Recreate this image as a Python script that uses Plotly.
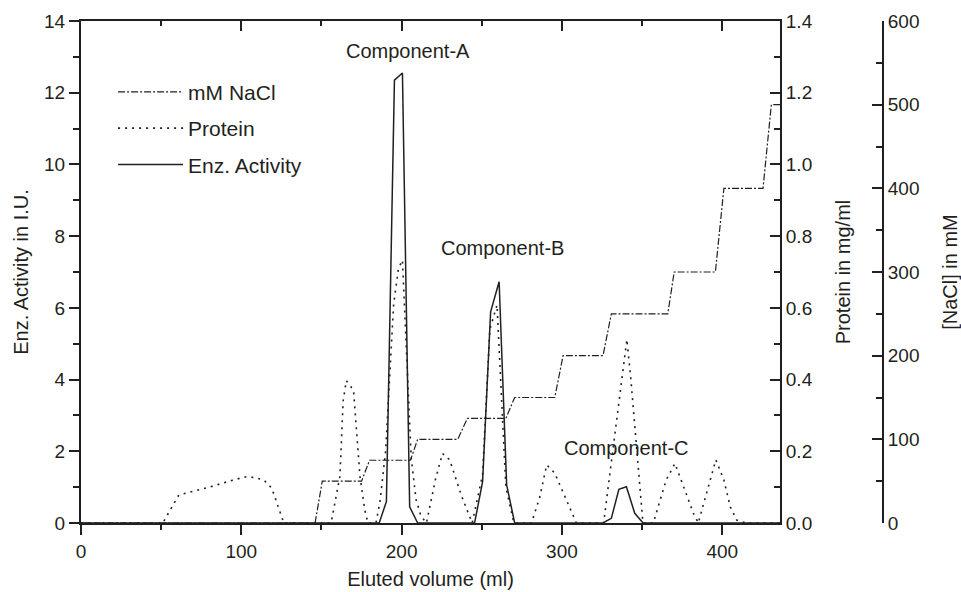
import plotly.graph_objects as go

# ---- data ----
nacl_volume = [0, 146, 150.5, 175, 180, 205.5, 210, 235, 241, 265, 270.5, 295.5, 300.7,
               325.6, 330.8, 366, 370, 395.7, 401, 425.4, 430.6, 436]
nacl_mM = [0, 0, 50, 50, 75, 75, 100, 100, 125, 125, 150, 150, 200,
           200, 250, 250, 300, 300, 400, 400, 500, 500]

protein_volume = [0, 51, 61, 80, 95, 103, 108, 114, 119, 123, 126.5,
                  156, 161.5, 163.5, 165.5, 170, 174, 177, 179,
                  184, 186.5, 190, 195, 198, 200.5, 203, 206, 209, 212, 215.5,
                  221, 225.5, 230, 237, 244,
                  250.5, 255, 259.5, 265, 270,
                  281, 286, 290.5, 295.5, 303, 309,
                  326, 340.5, 343, 346.5, 350.5,
                  357, 365, 370.5, 376, 382, 385,
                  391.5, 396, 401, 405, 409, 415, 436]
protein_mg = [0, 0, 0.078, 0.100, 0.120, 0.129, 0.127, 0.120, 0.097, 0.045, 0,
              0, 0.130, 0.340, 0.397, 0.370, 0.130, 0.036, 0,
              0, 0.060, 0.200, 0.610, 0.710, 0.733, 0.480, 0.180, 0.065, 0.020, 0,
              0.120, 0.194, 0.176, 0.080, 0,
              0.135, 0.540, 0.608, 0.100, 0,
              0, 0.070, 0.162, 0.139, 0.064, 0,
              0, 0.512, 0.400, 0.210, 0,
              0, 0.120, 0.166, 0.101, 0.027, 0,
              0.100, 0.176, 0.120, 0.045, 0.008, 0, 0]

enz_volume = [0, 186, 190.5, 195.5, 200.5, 205, 210, 245.5, 250.5, 255.5, 260.8, 265.5,
              270.5, 325.5, 330.8, 335.5, 340.2, 345.4, 350.6, 436]
enz_activity = [0, 0, 0.6, 12.35, 12.55, 0.45, 0, 0, 1.15, 5.89, 6.73, 1.06,
                0, 0, 0.13, 0.94, 1.01, 0.27, 0, 0]

component_labels = ["Component-A", "Component-B", "Component-C"]
component_x = [204, 263, 340]
component_y = [13.15, 7.67, 2.10]

INK = "#231f20"
FONT = "Liberation Sans, Arial, Helvetica, sans-serif"

fig = go.Figure()
fig.add_trace(go.Scatter(x=nacl_volume, y=nacl_mM, yaxis="y3", mode="lines",
                         name="mM NaCl", legendgroup="a",
                         line=dict(color=INK, width=1.2, dash="7px,2px,2px,2px")))
fig.add_trace(go.Scatter(x=protein_volume, y=protein_mg, yaxis="y2", mode="lines",
                         name="Protein", legendgroup="b",
                         line=dict(color=INK, width=1.6, dash="2px,5px")))
fig.add_trace(go.Scatter(x=enz_volume, y=enz_activity, yaxis="y", mode="lines",
                         name="Enz. Activity", legendgroup="c",
                         line=dict(color=INK, width=1.5)))
# invisible helper trace so the top (inside-ticked) axis is drawn
fig.add_trace(go.Scatter(x=[None], y=[None], xaxis="x2", yaxis="y",
                         showlegend=False, hoverinfo="skip"))

for t, x, y in zip(component_labels, component_x, component_y):
    fig.add_annotation(x=x, y=y, xref="x", yref="y", text=t, showarrow=False,
                       font=dict(size=20, color=INK, family=FONT))

XD = (780 - 81) / (883 - 81)
TF = dict(size=20, color=INK, family=FONT)


def ax(**kw):
    d = dict(showline=True, linecolor=INK, linewidth=2, tickcolor=INK,
             tickwidth=2, showgrid=False, zeroline=False, tickmode="linear",
             automargin=False,
             tickfont=dict(size=19, color=INK, family=FONT))
    d.update(kw)
    return d


fig.update_layout(
    width=961, height=592,
    margin=dict(l=81, r=78, t=21, b=69),
    paper_bgcolor="white", plot_bgcolor="white",
    font=dict(family=FONT, color=INK, size=19),
    showlegend=True,
    legend=dict(x=0.04, y=0.899, xanchor="left", yanchor="top",
                bgcolor="rgba(0,0,0,0)", font=dict(size=21, color=INK, family=FONT),
                itemwidth=65, tracegroupgap=6, traceorder="grouped"),
    xaxis=ax(domain=[0, XD], range=[0, 436], anchor="y", ticks="outside",
             tick0=0, dtick=100, ticklen=10,
             minor=dict(dtick=50, ticks="outside", ticklen=5, tickcolor=INK, tickwidth=2),
             title=dict(text="Eluted volume (ml)", font=TF, standoff=11)),
    xaxis2=ax(domain=[0, XD], range=[0, 436], anchor="y", overlaying="x", side="top",
              ticks="inside", tick0=0, dtick=100, ticklen=10, showticklabels=False,
              minor=dict(dtick=50, ticks="inside", ticklen=5, tickcolor=INK, tickwidth=2)),
    yaxis=ax(range=[0, 14], anchor="x", ticks="outside", tick0=0, dtick=2, ticklen=10,
             minor=dict(dtick=1, ticks="outside", ticklen=6, tickcolor=INK, tickwidth=2),
             title=dict(text="Enz. Activity in I.U.", font=TF, standoff=10)),
    yaxis2=ax(range=[0, 1.4], anchor="x", overlaying="y", side="right", ticks="inside",
              tick0=0, dtick=0.2, ticklen=10, tickformat=".1f",
              minor=dict(dtick=0.1, ticks="inside", ticklen=6, tickcolor=INK, tickwidth=2),
              title=dict(text="Protein in mg/ml", font=TF, standoff=24)),
    yaxis3=ax(range=[0, 600], anchor="free", overlaying="y", side="right", position=1.0,
              ticks="inside", tick0=0, dtick=100, ticklen=10,
              minor=dict(dtick=50, ticks="inside", ticklen=6, tickcolor=INK, tickwidth=2),
              title=dict(text="[NaCl] in mM", font=TF, standoff=23)),
)

fig.write_html("out.html")
